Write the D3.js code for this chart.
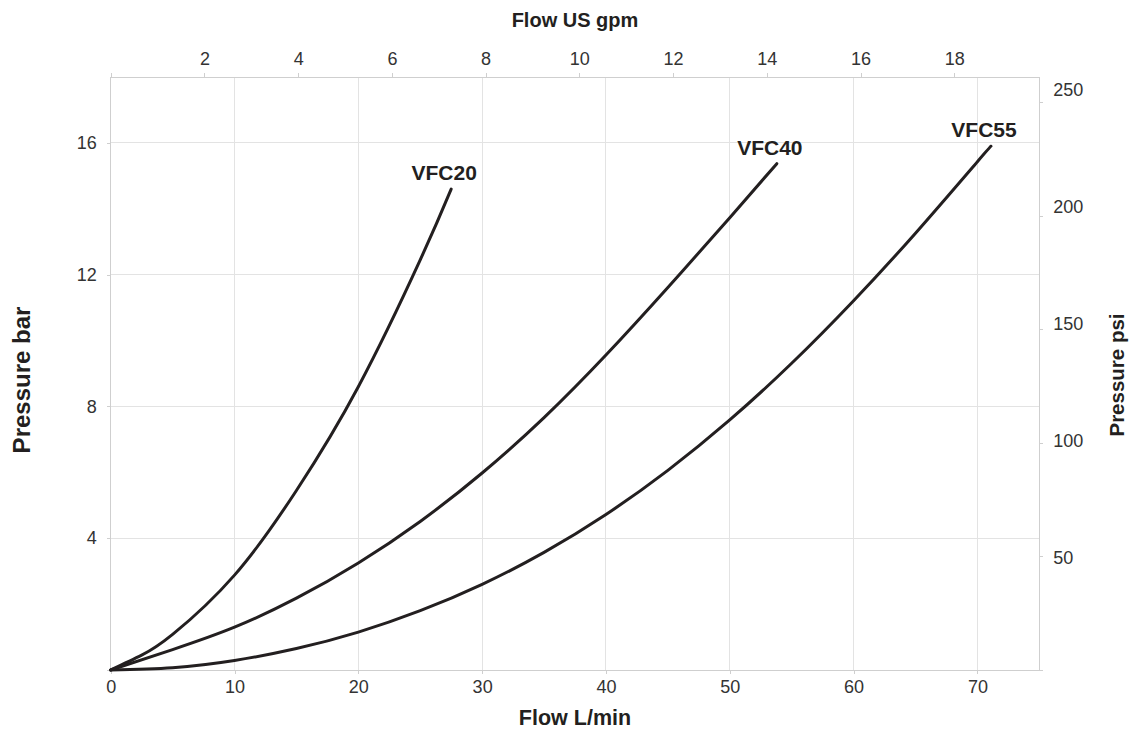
<!doctype html>
<head>
    <meta charset="utf-8">
    <title>Pressure vs Flow</title>
    <script src="https://d3js.org/d3.v7.min.js"></script>
    <style>
        body {margin:0; background:#fff;}
        svg {display:block; font-family:"Liberation Sans", Arial, Helvetica, sans-serif;}
        .grid line {stroke:#e3e3e3; shape-rendering:crispEdges;}
        .axis path {display:none;}
        .axis line {stroke:#cfcfcf; shape-rendering:crispEdges;}
        .axis text {font-size:18px; fill:#333;}
        .title {font-weight:bold; fill:#231f20; text-anchor:middle;}
        .curve {fill:none; stroke:#231f20; stroke-width:3px; stroke-linecap:round;}
        .label {font-size:21px; font-weight:bold; fill:#231f20; text-anchor:middle;}
    </style>
</head>
<body>
    <script>
        "use strict";
        // values (flow L/min, pressure bar)
        var series = ["VFC20", "VFC40", "VFC55"];
        var flowVFC20 = [0, 2.5, 5, 10, 15, 20, 25, 27.5];
        var presVFC20 = [0, 0.45, 1.08, 2.88, 5.45, 8.6, 12.45, 14.6];
        var flowVFC40 = [0, 5, 10, 15, 20, 25, 30, 35, 40, 45, 50, 53.8];
        var presVFC40 = [0, 0.62, 1.3, 2.18, 3.25, 4.51, 5.98, 7.66, 9.56, 11.61, 13.73, 15.37];
        var flowVFC55 = [0, 5, 10, 15, 20, 25, 30, 35, 40, 45, 50, 55, 60, 65, 70, 71.1];
        var presVFC55 = [0, 0.07, 0.29, 0.65, 1.15, 1.8, 2.6, 3.57, 4.72, 6.06, 7.59, 9.31, 11.21, 13.26, 15.43, 15.9];

        var flowTicks = [0, 10, 20, 30, 40, 50, 60, 70];
        var gpmTicks = [0, 2, 4, 6, 8, 10, 12, 14, 16, 18];
        var barTicks = [0, 4, 8, 12, 16];
        var psiTicks = [0, 50, 100, 150, 200, 250];

        var LPM_PER_GPM = 3.785;
        var PSI_PER_BAR = 14.5038;

        var W = 1130, H = 731;
        var mL = 110.7, mR = 1039.3, mT = 77, mB = 670;

        var svg = d3.select("body").append("svg")
            .attr("width", W).attr("height", H);

        var x = d3.scaleLinear().domain([0, 75]).range([mL, mR]);
        var xTop = d3.scaleLinear().domain([0, 75 / LPM_PER_GPM]).range([mL, mR]);
        var y = d3.scaleLinear().domain([0, 18]).range([mB, mT]);
        var yRight = d3.scaleLinear().domain([0, 18 * PSI_PER_BAR]).range([mB, mT]);
        // psi labels in the reference sit slightly off their ticks
        var psiLabelY = d3.scaleLinear().domain([50, 250]).range([558, 90]);

        // grid
        var grid = svg.append("g").attr("class", "grid");
        grid.selectAll(".gx").data(flowTicks.filter(function(d) { return d > 0; }))
            .enter().append("line")
            .attr("x1", function(d) { return x(d); }).attr("x2", function(d) { return x(d); })
            .attr("y1", mT).attr("y2", mB);
        grid.selectAll(".gy").data(barTicks.filter(function(d) { return d > 0; }))
            .enter().append("line")
            .attr("x1", mL).attr("x2", mR)
            .attr("y1", function(d) { return y(d); }).attr("y2", function(d) { return y(d); });

        // frame
        svg.append("rect")
            .attr("x", mL).attr("y", mT)
            .attr("width", mR - mL).attr("height", mB - mT)
            .attr("fill", "none").attr("stroke", "#cfcfcf")
            .attr("shape-rendering", "crispEdges");

        // axes
        svg.append("g").attr("class", "axis")
            .attr("transform", "translate(0," + mB + ")")
            .call(d3.axisBottom(x).tickValues(flowTicks).tickSize(4).tickPadding(6));

        svg.append("g").attr("class", "axis")
            .attr("transform", "translate(0," + mT + ")")
            .call(d3.axisTop(xTop).tickValues(gpmTicks).tickSize(4).tickPadding(8)
                .tickFormat(function(d) { return d === 0 ? "" : d; }));

        svg.append("g").attr("class", "axis")
            .attr("transform", "translate(" + mL + ",0)")
            .call(d3.axisLeft(y).tickValues(barTicks).tickSize(4).tickPadding(10)
                .tickFormat(function(d) { return d === 0 ? "" : d; }));

        var rAxis = svg.append("g").attr("class", "axis")
            .attr("transform", "translate(" + mR + ",0)")
            .call(d3.axisRight(yRight).tickValues(psiTicks).tickSize(4).tickPadding(10)
                .tickFormat(function(d) { return d === 0 ? "" : d; }));
        rAxis.selectAll(".tick text")
            .attr("y", function(d) { return d === 0 ? 0 : psiLabelY(d) - yRight(d); });

        // titles
        svg.append("text").attr("class", "title").style("font-size", "20px")
            .attr("x", (mL + mR) / 2).attr("y", 27).text("Flow US gpm");
        svg.append("text").attr("class", "title").style("font-size", "21.5px")
            .attr("x", (mL + mR) / 2).attr("y", 725).text("Flow L/min");
        svg.append("text").attr("class", "title").style("font-size", "24px")
            .attr("transform", "translate(30,380) rotate(-90)").text("Pressure bar");
        svg.append("text").attr("class", "title").style("font-size", "20.5px")
            .attr("transform", "translate(1124,375) rotate(-90)").text("Pressure psi");

        // curves
        var data = [
            {name: series[0], q: flowVFC20, p: presVFC20},
            {name: series[1], q: flowVFC40, p: presVFC40},
            {name: series[2], q: flowVFC55, p: presVFC55}
        ].map(function(s) {
            return {name: s.name, pts: s.q.map(function(q, i) { return [q, s.p[i]]; })};
        });

        var line = d3.line()
            .x(function(d) { return x(d[0]); })
            .y(function(d) { return y(d[1]); })
            .curve(d3.curveNatural);

        svg.selectAll(".curve").data(data).enter().append("path")
            .attr("class", "curve")
            .attr("d", function(d) { return line(d.pts); });

        svg.selectAll(".label").data(data).enter().append("text")
            .attr("class", "label")
            .attr("x", function(d) { return x(d.pts[d.pts.length - 1][0]) - 7; })
            .attr("y", function(d) { return y(d.pts[d.pts.length - 1][1]) - 9; })
            .text(function(d) { return d.name; });
    </script>
</body>
</html>
